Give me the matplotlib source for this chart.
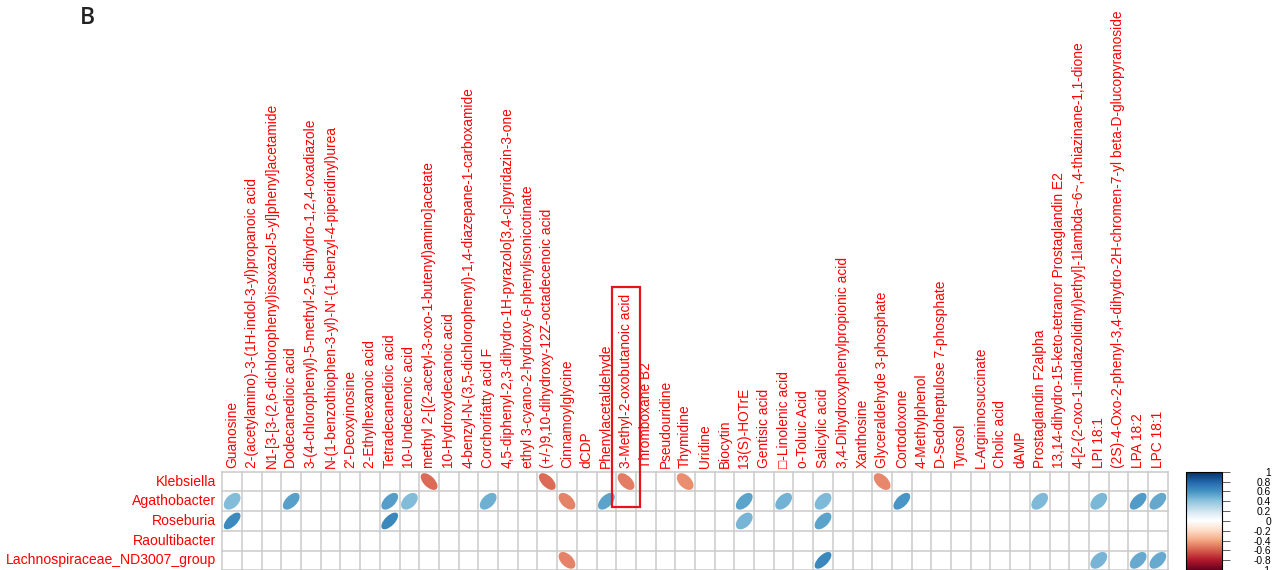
import numpy as np
import matplotlib
matplotlib.use("Agg")
import matplotlib.pyplot as plt
from matplotlib.patches import Ellipse, Rectangle
from matplotlib.colors import LinearSegmentedColormap, Normalize
from matplotlib.cm import ScalarMappable

plt.rcParams['font.family'] = ['Liberation Sans', 'DejaVu Sans']

taxa = ["Klebsiella", "Agathobacter", "Roseburia", "Raoultibacter",
        "Lachnospiraceae_ND3007_group"]

metabolites = [
    "Guanosine",
    "2-(acetylamino)-3-(1H-indol-3-yl)propanoic acid",
    "N1-[3-[3-(2,6-dichlorophenyl)isoxazol-5-yl]phenyl]acetamide",
    "Dodecanedioic acid",
    "3-(4-chlorophenyl)-5-methyl-2,5-dihydro-1,2,4-oxadiazole",
    "N-(1-benzothiophen-3-yl)-N'-(1-benzyl-4-piperidinyl)urea",
    "2'-Deoxyinosine",
    "2-Ethylhexanoic acid",
    "Tetradecanedioic acid",
    "10-Undecenoic acid",
    "methyl 2-[(2-acetyl-3-oxo-1-butenyl)amino]acetate",
    "10-Hydroxydecanoic acid",
    "4-benzyl-N-(3,5-dichlorophenyl)-1,4-diazepane-1-carboxamide",
    "Corchorifatty acid F",
    "4,5-diphenyl-2,3-dihydro-1H-pyrazolo[3,4-c]pyridazin-3-one",
    "ethyl 3-cyano-2-hydroxy-6-phenylisonicotinate",
    "(+/-)9,10-dihydroxy-12Z-octadecenoic acid",
    "Cinnamoylglycine",
    "dCDP",
    "Phenylacetaldehyde",
    "3-Methyl-2-oxobutanoic acid",
    "Thromboxane B2",
    "Pseudouridine",
    "Thymidine",
    "Uridine",
    "Biocytin",
    "13(S)-HOTrE",
    "Gentisic acid",
    "\u25a1-Linolenic acid",
    "o-Toluic Acid",
    "Salicylic acid",
    "3,4-Dihydroxyphenylpropionic acid",
    "Xanthosine",
    "Glyceraldehyde 3-phosphate",
    "Cortodoxone",
    "4-Methylphenol",
    "D-Sedoheptulose 7-phosphate",
    "Tyrosol",
    "L-Argininosuccinate",
    "Cholic acid",
    "dAMP",
    "Prostaglandin F2alpha",
    "13,14-dihydro-15-keto-tetranor Prostaglandin E2",
    "4-[2-(2-oxo-1-imidazolidinyl)ethyl]-1lambda~6~,4-thiazinane-1,1-dione",
    "LPI 18:1",
    "(2S)-4-Oxo-2-phenyl-3,4-dihydro-2H-chromen-7-yl beta-D-glucopyranoside",
    "LPA 18:2",
    "LPC 18:1",
]

# significant correlations only (blank cells are not significant)
klebsiella = {
    "methyl 2-[(2-acetyl-3-oxo-1-butenyl)amino]acetate": -0.57,
    "(+/-)9,10-dihydroxy-12Z-octadecenoic acid": -0.56,
    "3-Methyl-2-oxobutanoic acid": -0.52,
    "Thymidine": -0.47,
    "Glyceraldehyde 3-phosphate": -0.49,
}
agathobacter = {
    "Guanosine": 0.43,
    "Dodecanedioic acid": 0.54,
    "Tetradecanedioic acid": 0.55,
    "10-Undecenoic acid": 0.43,
    "Corchorifatty acid F": 0.48,
    "Cinnamoylglycine": -0.50,
    "Phenylacetaldehyde": 0.53,
    "13(S)-HOTrE": 0.53,
    "\u25a1-Linolenic acid": 0.47,
    "Salicylic acid": 0.44,
    "Cortodoxone": 0.58,
    "Prostaglandin F2alpha": 0.44,
    "LPI 18:1": 0.45,
    "LPA 18:2": 0.56,
    "LPC 18:1": 0.51,
}
roseburia = {
    "Guanosine": 0.63,
    "Tetradecanedioic acid": 0.64,
    "13(S)-HOTrE": 0.46,
    "Salicylic acid": 0.53,
}
raoultibacter = {}
lachnospiraceae = {
    "Cinnamoylglycine": -0.50,
    "Salicylic acid": 0.64,
    "LPI 18:1": 0.46,
    "LPA 18:2": 0.50,
    "LPC 18:1": 0.50,
}
taxon_corr = [klebsiella, agathobacter, roseburia, raoultibacter, lachnospiraceae]

highlighted = "3-Methyl-2-oxobutanoic acid"
cbar_ticks = [1, 0.8, 0.6, 0.4, 0.2, 0, -0.2, -0.4, -0.6, -0.8, -1]

# RdBu palette (200 steps), red = negative, blue = positive
rdbu = ["#67001F", "#B2182B", "#D6604D", "#F4A582", "#FDDBC7", "#FFFFFF",
        "#D1E5F0", "#92C5DE", "#4393C3", "#2166AC", "#053061"]
cmap = LinearSegmentedColormap.from_list("rdbu200", rdbu, N=200)
norm = Normalize(-1, 1)

W, H = 1282, 570
fig = plt.figure(figsize=(W / 100, H / 100), dpi=100)
fig.patch.set_facecolor("white")

n_rows, n_cols = len(taxa), len(metabolites)
ax = fig.add_axes([222.3 / W, (H - 570.2) / H, 945.4 / W, 98.5 / H])
ax.set_xlim(0, n_cols)
ax.set_ylim(0, n_rows)
ax.axis("off")

grid_kw = dict(color="#cacaca", lw=1.1, clip_on=False, zorder=1)
for j in range(n_cols + 1):
    ax.plot([j, j], [0, n_rows], **grid_kw)
for i in range(n_rows + 1):
    ax.plot([0, n_cols], [i, i], **grid_kw)

for i, corr in enumerate(taxon_corr):
    yc = n_rows - 1 - i + 0.5
    for name, r in corr.items():
        j = metabolites.index(name)
        a = abs(r)
        ax.add_patch(Ellipse((j + 0.5, yc),
                             width=0.85 * np.sqrt(1 + a),
                             height=0.85 * np.sqrt(1 - a),
                             angle=45 if r > 0 else -45,
                             facecolor=cmap(norm(r)), edgecolor="none",
                             zorder=2, clip_on=False))

label_red = "#FF0000"
for j, name in enumerate(metabolites):
    ax.text(j + 0.5, n_rows + 0.2, name, rotation=90, ha="center", va="bottom",
            color=label_red, fontsize=9.9, clip_on=False)
for i, name in enumerate(taxa):
    ax.text(-0.3, n_rows - 1 - i + 0.5, name, ha="right", va="center",
            color=label_red, fontsize=10.1, clip_on=False)

# highlight box around one metabolite column and its label
k = metabolites.index(highlighted)
ax.add_patch(Rectangle((k - 0.22, n_rows - 1.79), 1.42, 11.17, fill=False,
                       edgecolor="#E8141B", lw=1.6, clip_on=False, zorder=5))

# colour legend
cax = fig.add_axes([1185.7 / W, (H - 570.0) / H, 36.0 / W, 98.3 / H])
cb = fig.colorbar(ScalarMappable(norm=norm, cmap=cmap), cax=cax)
cb.outline.set_linewidth(0.8)
cb.outline.set_edgecolor("black")
cb.set_ticks(cbar_ticks)
cb.set_ticklabels([f"{t:g}" for t in cbar_ticks])
cax.tick_params(axis="y", length=5.5, width=0.6, color="#444444",
                labelsize=7.4, pad=30)
for lbl in cax.get_yticklabels():
    lbl.set_horizontalalignment("right")

fig.text(80 / W, 1 - 6 / H, "B", fontsize=16.5, family="Open Sans",
         fontweight="semibold", color="#222222", ha="left", va="top")

fig.savefig("out.png", dpi=100, facecolor="white")
